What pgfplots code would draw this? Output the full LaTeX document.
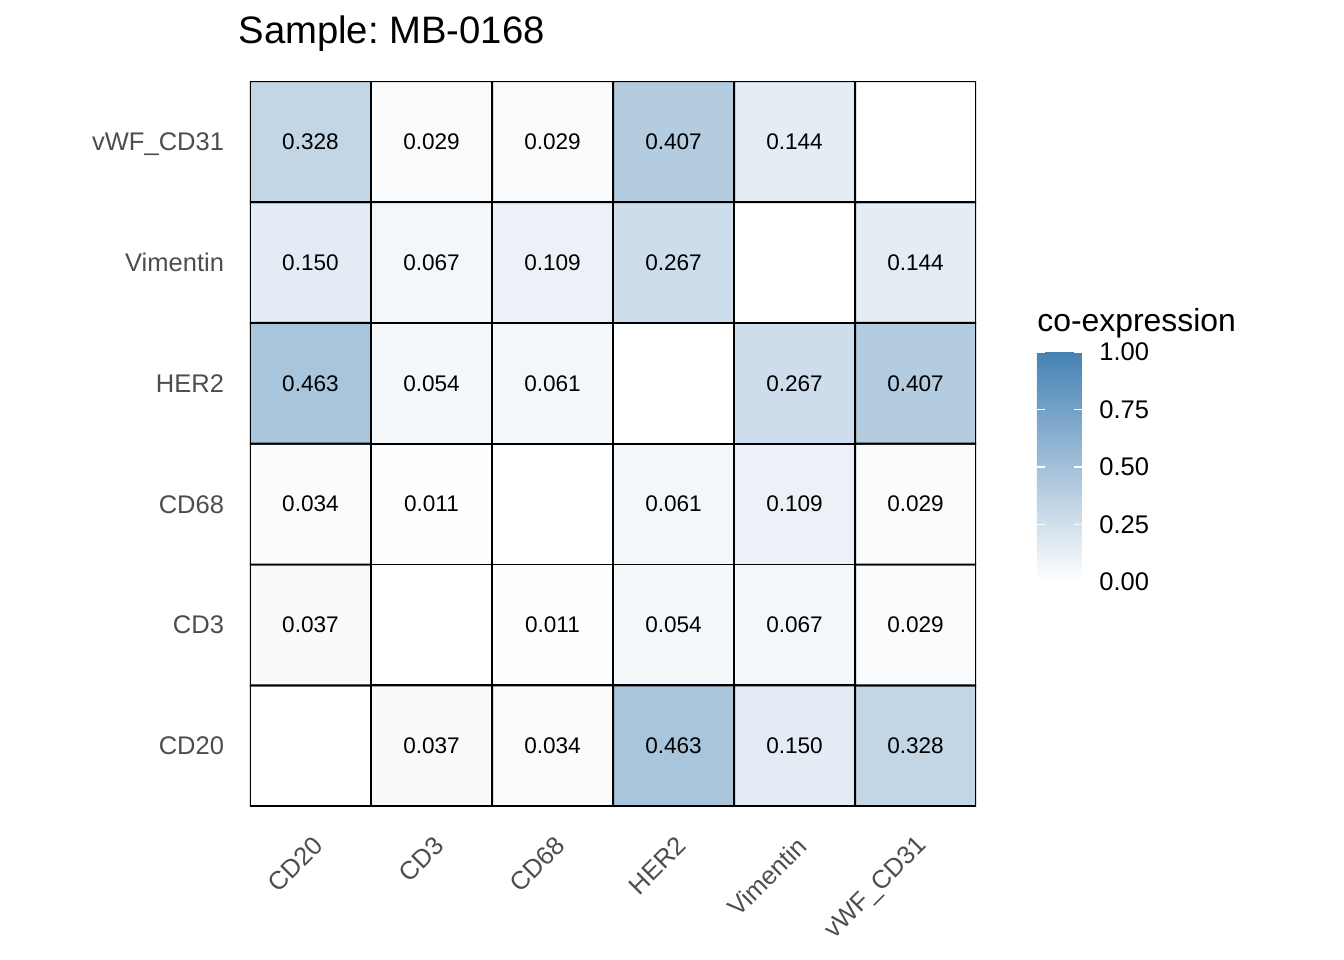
\documentclass[border=0pt]{standalone}
\usepackage{fontspec}
\setmainfont{Liberation Sans}
\usepackage{pgfplots}
\pgfplotsset{compat=1.18}
\frenchspacing

\definecolor{grey30}{RGB}{77,77,77}

% co-expression matrix, x varies fastest, rows from CD20 (y=0) up to vWF_CD31 (y=5)
\pgfplotstableread{
x y c
0 0 0
1 0 0.037
2 0 0.034
3 0 0.463
4 0 0.150
5 0 0.328
0 1 0.037
1 1 0
2 1 0.011
3 1 0.054
4 1 0.067
5 1 0.029
0 2 0.034
1 2 0.011
2 2 0
3 2 0.061
4 2 0.109
5 2 0.029
0 3 0.463
1 3 0.054
2 3 0.061
3 3 0
4 3 0.267
5 3 0.407
0 4 0.150
1 4 0.067
2 4 0.109
3 4 0.267
4 4 0
5 4 0.144
0 5 0.328
1 5 0.029
2 5 0.029
3 5 0.407
4 5 0.144
5 5 0
}\coexpr

% cell labels (diagonal left blank)
\pgfplotstableread{
x y lab
1 0 0.037
2 0 0.034
3 0 0.463
4 0 0.150
5 0 0.328
0 1 0.037
2 1 0.011
3 1 0.054
4 1 0.067
5 1 0.029
0 2 0.034
1 2 0.011
3 2 0.061
4 2 0.109
5 2 0.029
0 3 0.463
1 3 0.054
2 3 0.061
4 3 0.267
5 3 0.407
0 4 0.150
1 4 0.067
2 4 0.109
3 4 0.267
5 4 0.144
0 5 0.328
1 5 0.029
2 5 0.029
3 5 0.407
4 5 0.144
}\coexprlab

\begin{document}
\begin{tikzpicture}
\path[use as bounding box] (0,0) rectangle (505.9pt,361.35pt);

\begin{axis}[
  at={(94.1pt,57.9pt)}, anchor=south west,
  scale only axis, width=273.3pt, height=272.9pt,
  xmin=-0.5, xmax=5.5, ymin=-0.5, ymax=5.5,
  axis line style={draw=none},
  major tick length=0pt,
  xtick={0,...,5}, ytick={0,...,5},
  xticklabels={CD20,CD3,CD68,HER2,Vimentin,vWF\_CD31},
  yticklabels={CD20,CD3,CD68,HER2,Vimentin,vWF\_CD31},
  ticklabel style={font=\fontsize{9.6}{11}\selectfont, text=grey30, inner sep=0pt},
  yticklabel style={anchor=base east, xshift=-9.6pt, yshift=-3.4pt},
  xticklabel style={xshift=3pt, yshift=-13.2pt, rotate=45, anchor=east},
  colormap={steel}{rgb255=(255,255,255) rgb255=(70,130,180)},
  point meta min=0, point meta max=1,
  colorbar right,
  colorbar/width=16.9pt,
  colorbar style={
    at={(parent axis.south east)}, anchor=south west,
    xshift=14.4pt, yshift=84.4pt,
    scale only axis, width=16.9pt, height=86.6pt,
    axis line style={draw=none},
    ytick={0,0.25,0.5,0.75,1},
    ytick pos=both, yticklabel pos=right,
    tick align=inside, major tick length=3pt,
    ytick style={white, line width=0.6pt},
    yticklabel style={font=\fontsize{9.6}{11}\selectfont, text=black,
      /pgf/number format/.cd, fixed, fixed zerofill, precision=2,
      assume math mode=true},
    yticklabel shift=6.4pt,
  },
]
\addplot[matrix plot*, mesh/cols=6, point meta=explicit,
  shader=faceted, faceted color=black, line width=0.75pt]
  table[meta=c] {\coexpr};
\addplot[only marks, mark=none, point meta=explicit symbolic,
  nodes near coords,
  nodes near coords style={anchor=center, font=\fontsize{8.5}{10}\selectfont, text=black}]
  table[meta=lab] {\coexprlab};
\end{axis}

\node[anchor=base west, font=\fontsize{14.4}{17}\selectfont, inner sep=0pt] at (89.6pt,344.8pt) {Sample: MB-0168};
\node[anchor=base west, font=\fontsize{12}{14}\selectfont, inner sep=0pt] at (390.3pt,236.4pt) {co-expression};
\end{tikzpicture}
\end{document}
